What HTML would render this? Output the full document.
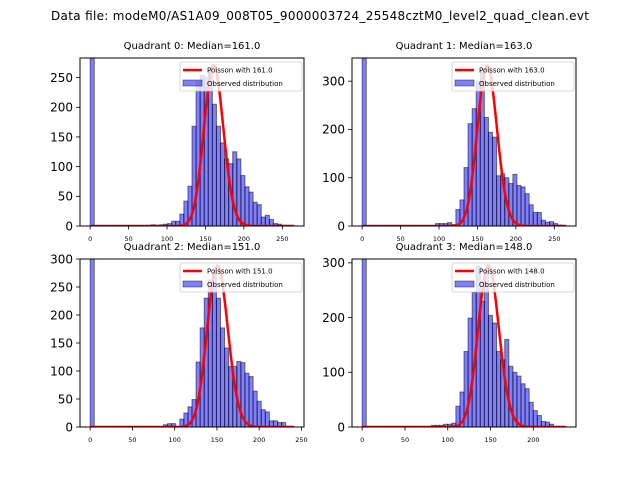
<!DOCTYPE html>
<html><head><meta charset="utf-8"><style>
html,body{margin:0;padding:0;background:#fff;}
svg{display:block;font-family:"DejaVu Sans","Liberation Sans",sans-serif;}
</style></head>
<body>
<svg id="fig" width="640" height="480" viewBox="0 0 640 480" xmlns="http://www.w3.org/2000/svg">
<rect width="640" height="480" fill="#fff"/>
<text x="320" y="20" font-size="12" text-anchor="middle" textLength="538">Data file: modeM0/AS1A09_008T05_9000003724_25548cztM0_level2_quad_clean.evt</text>
</svg>
<script>
// Quadrant data: 50 histogram bins each (bin 0 is clipped, very large)
const quadNames = ["Quadrant 0","Quadrant 1","Quadrant 2","Quadrant 3"];
const medians = [161.0, 163.0, 151.0, 148.0];
const maxValues = [265, 265, 241, 238];
const yLimits = [283, 348, 300, 307];
const yTickStep = [50, 100, 50, 100];
const poissonPeak = [271, 332, 288, 295];
const countsQ0 = [1000,0,0,0,0,0,0,0,0,0,0,0,0,0,1,2,1,2,3,4,8,8,20,42,67,168,243,254,250,262,205,168,140,113,105,125,113,85,66,57,40,36,15,18,11,4,3,1,1,1];
const countsQ1 = [1000,0,0,0,0,0,0,0,0,0,0,0,0,0,0,0,0,0,5,5,5,7,3,34,54,121,212,243,300,322,225,194,184,104,108,100,88,107,84,81,67,44,28,28,12,8,9,5,2,1];
const countsQ2 = [1000,0,0,0,0,0,0,0,0,0,0,0,0,0,0,0,0,0,4,6,6,1,14,25,36,49,116,177,230,263,275,230,177,141,108,108,117,115,96,90,64,46,31,27,11,11,8,8,0,1];
const countsQ3 = [1000,0,0,0,0,0,0,0,0,0,0,0,0,0,0,0,0,3,3,3,5,5,7,38,64,138,199,246,294,230,285,204,190,138,123,160,111,100,93,79,70,45,30,21,10,9,5,1,1,0];
const allCounts = [countsQ0,countsQ1,countsQ2,countsQ3];
const xTicks = [0,50,100,150,200,250];

const svg = document.getElementById('fig');
const NS = "http://www.w3.org/2000/svg";
const boxes = [[80,58,304,226],[352,58,576,226],[80,259,304,427],[352,259,576,427]];
function mk(tag, attrs, parent){
  const e = document.createElementNS(NS, tag);
  for (const k in attrs) e.setAttribute(k, attrs[k]);
  (parent||svg).appendChild(e);
  return e;
}
function lgamma(z){
  const g=7, c=[0.99999999999980993,676.5203681218851,-1259.1392167224028,771.32342877765313,-176.61502916214059,12.507343278686905,-0.13857109526572012,9.9843695780195716e-6,1.5056327351493116e-7];
  z -= 1; let x=c[0]; for(let i=1;i<g+2;i++) x += c[i]/(z+i);
  const t=z+g+0.5;
  return 0.5*Math.log(2*Math.PI)+(z+0.5)*Math.log(t)-t+Math.log(x);
}
function pmf(k, lam){ return Math.exp(k*Math.log(lam)-lam-lgamma(k+1)); }

for (let q=0;q<4;q++){
  const [x0,y0,x1,y1] = boxes[q];
  const mx = maxValues[q];
  const xmin = -0.05*mx, xmax = 1.05*mx;
  const sx = v => x0 + (v - xmin)/(xmax - xmin)*(x1-x0);
  const sy = v => y1 - v/yLimits[q]*(y1-y0);
  const g = mk('g', {});
  
  
  const clipId = 'clip'+q;
  const cp = mk('clipPath', {id: clipId}, g);
  mk('rect', {x:x0, y:y0, width:x1-x0, height:y1-y0}, cp);
  const plot = mk('g', {'clip-path':'url(#'+clipId+')'}, g);
  const counts = allCounts[q];
  const bw = mx / counts.length;
  for (let i=0;i<counts.length;i++){
    if (counts[i] <= 0) continue;
    const r = mk('rect', {x:sx(i*bw), y:sy(counts[i]), width:sx((i+1)*bw)-sx(i*bw), height:sy(0)-sy(counts[i]), fill:'rgba(0,0,255,0.5)', stroke:'rgba(0,0,0,0.5)', 'stroke-width':1}, plot);
    
    
  }
  const lam = medians[q];
  const A = poissonPeak[q] / pmf(Math.round(lam), lam);
  let d = '';
  for (let k=0;k<=mx;k++){ d += (k?'L':'M') + sx(k).toFixed(2) + ',' + sy(A*pmf(k,lam)).toFixed(2); }
  const pl = mk('path', {d:d, fill:'none', stroke:'red', 'stroke-width':2.5}, plot);
  
  
  mk('rect', {x:x0, y:y0, width:x1-x0, height:y1-y0, fill:'none', stroke:'#000', 'stroke-width':1}, g);
  for (const t of xTicks){
    if (t > xmax) continue;
    mk('line', {x1:sx(t), x2:sx(t), y1:y1, y2:y1+3.5, stroke:'#000', 'stroke-width':0.8}, g);
    const tx = mk('text', {x:sx(t), y:y1+15, 'font-size':6.5, 'text-anchor':'middle'}, g);
    tx.textContent = t;
    
    
  }
  for (let t=0; t<=yLimits[q]; t+=yTickStep[q]){
    mk('line', {x1:x0-4, x2:x0, y1:sy(t), y2:sy(t), stroke:'#000', 'stroke-width':0.8}, g);
    const ty = mk('text', {x:x0-7, y:sy(t)+4.3, 'font-size':12, 'text-anchor':'end'}, g);
    ty.textContent = t;
    
    
  }
  const tt = mk('text', {x:(x0+x1)/2, y:y0-9, 'font-size':10, 'text-anchor':'middle'}, g);
  tt.textContent = quadNames[q] + ': Median=' + medians[q].toFixed(1);
  
  
  const lg = mk('g', {}, g);
  
  
  const lx = x1-124, ly = y0+4;
  mk('rect', {x:lx, y:ly, width:122, height:29, rx:2, fill:'rgba(255,255,255,0.8)', stroke:'#ccc', 'stroke-width':0.8}, lg);
  mk('line', {x1:lx+3, x2:lx+22, y1:ly+8, y2:ly+8, stroke:'red', 'stroke-width':2.5}, lg);
  const t1 = mk('text', {x:lx+27, y:ly+10.5, 'font-size':7}, lg);
  t1.textContent = 'Poisson with ' + medians[q].toFixed(1);
  
  
  mk('rect', {x:lx+3, y:ly+18, width:19, height:6, fill:'rgba(0,0,255,0.5)', stroke:'rgba(0,0,0,0.5)', 'stroke-width':0.8}, lg);
  const t2 = mk('text', {x:lx+27, y:ly+24, 'font-size':7}, lg);
  t2.textContent = 'Observed distribution';
  
  
}
</script>
</body></html>
